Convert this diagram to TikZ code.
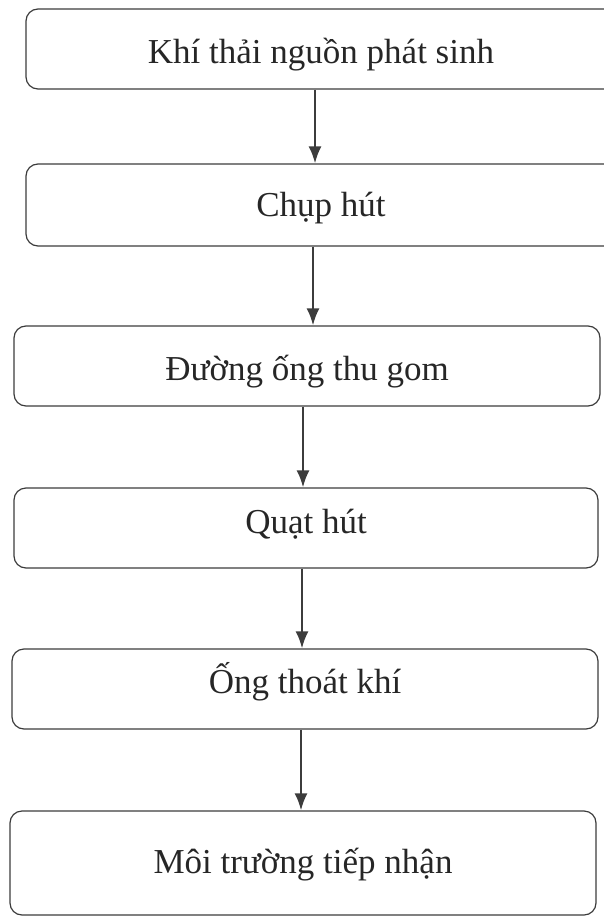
\documentclass[tikz,border=0pt]{standalone}
\usepackage{fontspec}
\setmainfont{Liberation Serif}
\usetikzlibrary{arrows.meta}
\definecolor{ink}{HTML}{3C3C3C}
\tikzset{stage/.style={draw=ink, line width=1.2pt, rounded corners=12pt, minimum height=80pt, inner sep=0pt, text=black!85, text height=#1, text depth=0pt, font=\fontsize{35}{40}\selectfont},
  stage/.default=28pt,
  flow/.style={draw=ink, line width=2.2pt, -{Latex[length=17pt,width=13pt]}}}
\begin{document}
\begin{tikzpicture}[x=1pt,y=-1pt]
\useasboundingbox (0,0) rectangle (603,917);
\node[stage=29pt, minimum width=590pt] (src) at (321,49) {Khí thải nguồn phát sinh};
\node[stage=24pt, minimum width=590pt, minimum height=82pt] (hood) at (321,205) {Chụp hút};
\node[stage=28pt, minimum width=586pt] (duct) at (307,366) {Đường ống thu gom};
\node[stage=10pt, minimum width=584pt] (fan) at (306,528) {Quạt hút};
\node[stage=8pt, minimum width=586pt] (stack) at (305,689) {Ống thoát khí};
\node[stage=20pt, minimum width=586pt, minimum height=104pt] (env) at (303,863) {Môi trường tiếp nhận};
% arrows
\draw[flow] ([xshift=-6pt]src.south) -- ([xshift=-6pt]hood.north);
\draw[flow] ([xshift=-8pt]hood.south) -- ([xshift=6pt]duct.north);
\draw[flow] ([xshift=-4pt]duct.south) -- ([xshift=-3pt]fan.north);
\draw[flow] ([xshift=-4pt]fan.south) -- ([xshift=-3pt]stack.north);
\draw[flow] ([xshift=-4pt]stack.south) -- ([xshift=-2pt]env.north);
\end{tikzpicture}
\end{document}
